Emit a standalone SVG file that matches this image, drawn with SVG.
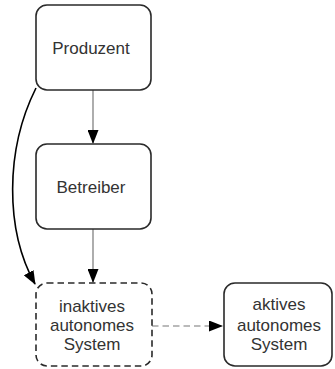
<svg xmlns="http://www.w3.org/2000/svg" width="335" height="369" viewBox="0 0 335 369">
<defs>
<style>
.box{fill:#fff;stroke:#2a2a2a;stroke-width:1.6}
.dash{stroke-dasharray:6.5 4}
.lbl{font-family:"Liberation Sans",Arial,sans-serif;font-size:17px;fill:#333;text-anchor:middle}
.gray{stroke:#777;stroke-width:1.2;fill:none}
.blk{stroke:#000;stroke-width:1.6;fill:none}
</style>
<marker id="ah" markerWidth="14" markerHeight="11" refX="13" refY="5.5" orient="auto" markerUnits="userSpaceOnUse">
<path d="M0,0 L14,5.5 L0,11 Z" fill="#000"/>
</marker>
</defs>
<g id="connectors">
<line class="gray" x1="93" y1="90" x2="93" y2="143" marker-end="url(#ah)"/>
<line class="gray" x1="93" y1="229" x2="93" y2="282" marker-end="url(#ah)"/>
<path class="blk" d="M36,88 C5,150 5,230 35,284" marker-end="url(#ah)"/>
<line class="gray dash" x1="152" y1="326" x2="222" y2="326" marker-end="url(#ah)"/>
</g>
<g id="produzent">
<rect class="box" x="36" y="5" width="115" height="85" rx="11"/>
<text class="lbl" x="91" y="54">Produzent</text>
</g>
<g id="betreiber">
<rect class="box" x="36" y="144" width="115" height="85" rx="11"/>
<text class="lbl" x="91" y="193">Betreiber</text>
</g>
<g id="inaktiv">
<rect class="box dash" x="36" y="283" width="116" height="83" rx="11"/>
<text class="lbl" x="92" y="312">inaktives</text>
<text class="lbl" x="92" y="331">autonomes</text>
<text class="lbl" x="92" y="350">System</text>
</g>
<g id="aktiv">
<rect class="box" x="224" y="283" width="108" height="83" rx="11"/>
<text class="lbl" x="279" y="310">aktives</text>
<text class="lbl" x="279" y="331">autonomes</text>
<text class="lbl" x="279" y="350">System</text>
</g>
</svg>
